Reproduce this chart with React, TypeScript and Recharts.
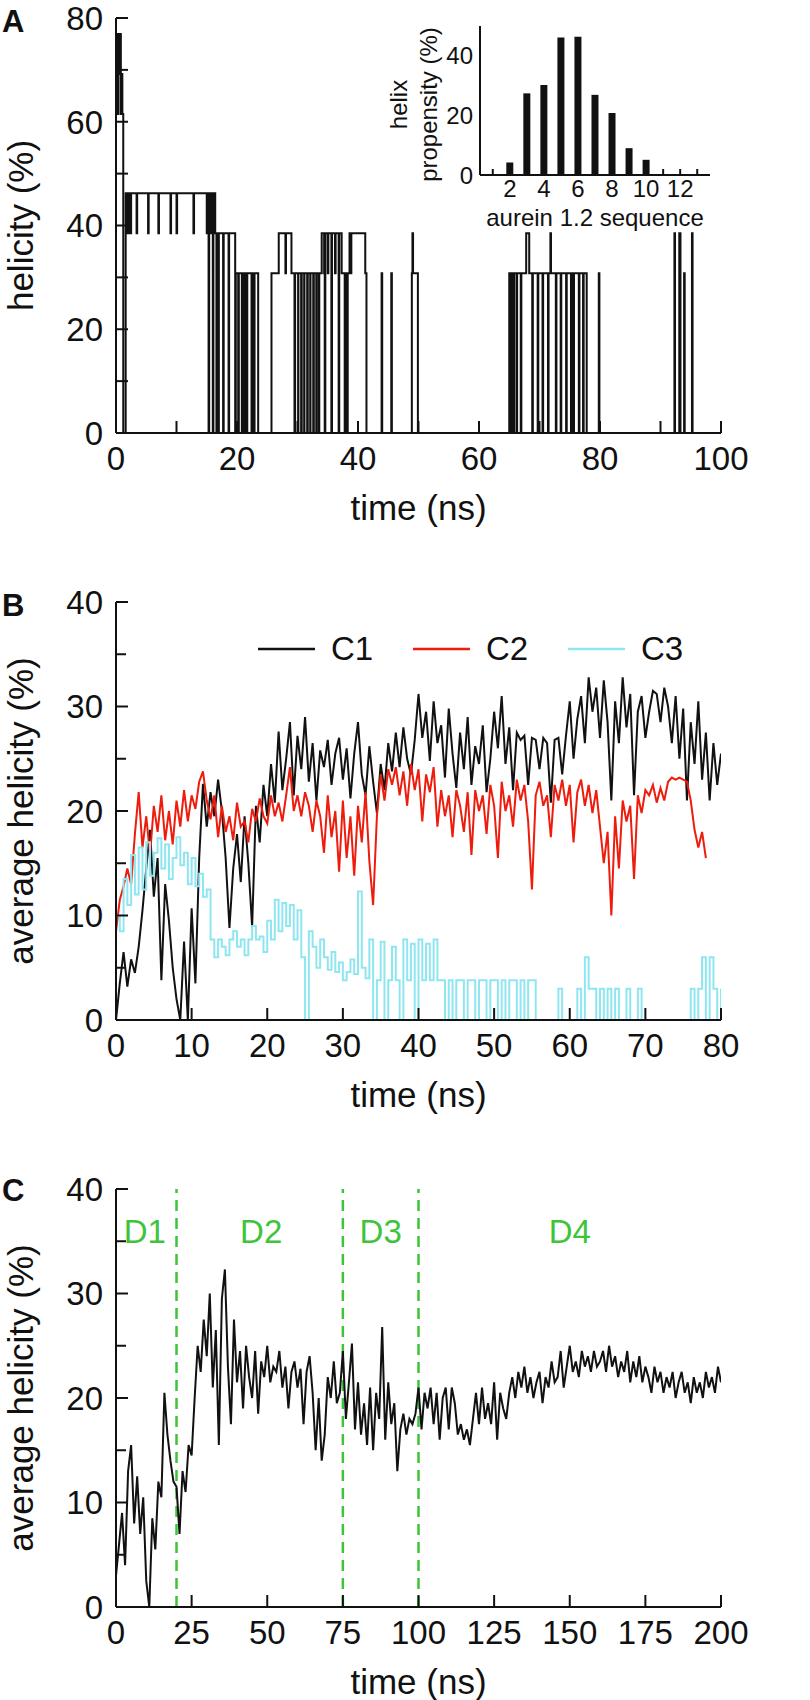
import React from 'react';
import { LineChart, Line, BarChart, Bar, XAxis, YAxis, ReferenceLine, ReferenceDot, Legend } from 'recharts';

const FONT = "'Liberation Sans', Arial, Helvetica, sans-serif";
const INK = '#111';
const RED = '#ee1c0c';
const CYAN = '#8ee6f0';
const GREEN = '#3ec43a';

// ---- panel A: one trajectory, [time (ns), helicity (%)] change points ----
const aSteps: [number, number][] = [
  [0, 69.2], [0.15, 76.9], [0.3, 61.5], [0.4, 76.9], [0.55, 69.2], [0.7, 76.9], [0.8, 61.5], [0.9, 69.2], [1.05, 61.5], [1.2, 0],
  [1.6, 46.2], [1.8, 38.5], [1.9, 46.2], [2.1, 38.5], [2.2, 46.2], [2.4, 38.5], [2.5, 46.2], [3.4, 38.5], [3.5, 46.2],
  [5.3, 38.5], [5.4, 46.2], [7.0, 38.5], [7.1, 46.2], [9.0, 38.5], [9.1, 46.2], [10.0, 38.5], [10.1, 46.2],
  [12.8, 38.5], [12.9, 46.2], [15.0, 38.5], [15.1, 46.2], [15.3, 0], [15.4, 46.2], [15.7, 38.5], [15.8, 46.2],
  [16.0, 0], [16.1, 46.2], [16.4, 38.5], [16.6, 0], [16.7, 38.5], [16.9, 0], [17.0, 38.5], [17.7, 0], [17.8, 38.5],
  [18.6, 0], [18.7, 38.5], [19.7, 0], [19.8, 30.8], [20.2, 0], [20.3, 30.8], [20.8, 0], [20.9, 30.8], [21.2, 0],
  [21.3, 30.8], [21.6, 0], [21.7, 30.8], [22.4, 0], [22.5, 30.8], [22.8, 0], [22.9, 30.8], [23.5, 0],
  [25.7, 30.8], [26.9, 38.5], [28.0, 30.8], [28.1, 38.5], [29.0, 30.8],
  [29.5, 0], [29.6, 30.8], [30.1, 0], [30.15, 30.8], [30.6, 0], [30.7, 30.8], [31.1, 0], [31.15, 30.8],
  [31.6, 0], [31.7, 30.8], [32.1, 0], [32.15, 30.8], [32.6, 0], [32.7, 30.8], [33.1, 0], [33.15, 30.8],
  [33.5, 0], [33.6, 30.8], [34.0, 38.5], [34.4, 30.8], [34.5, 0], [34.6, 38.5], [35.0, 30.8], [35.1, 38.5],
  [35.6, 0], [35.7, 38.5], [36.2, 30.8], [36.3, 38.5], [36.8, 0], [36.9, 38.5], [37.3, 30.8], [37.8, 0],
  [37.9, 30.8], [38.2, 0], [38.3, 30.8], [38.6, 38.5], [38.8, 30.8], [38.9, 38.5], [41.2, 30.8], [41.4, 0],
  [43.9, 30.8], [44.0, 0], [45.5, 30.8], [45.6, 0], [48.9, 30.8], [49.0, 38.5], [49.1, 30.8], [49.9, 0],
  [65.0, 30.8], [65.2, 0], [65.4, 30.8], [65.6, 0], [65.8, 30.8], [66.2, 0], [66.3, 30.8], [66.9, 0],
  [67.0, 30.8], [67.8, 38.5], [68.3, 30.8], [68.8, 0], [68.9, 30.8], [69.7, 0], [69.8, 30.8], [70.5, 0],
  [70.6, 30.8], [71.4, 0], [71.5, 30.8], [71.8, 38.5], [71.9, 30.8], [72.7, 0], [72.8, 30.8], [73.5, 0],
  [73.6, 30.8], [74.4, 0], [74.5, 30.8], [75.2, 0], [75.3, 30.8], [75.6, 0], [75.7, 30.8], [76.5, 0],
  [76.6, 30.8], [77.2, 0], [77.3, 30.8], [77.8, 0], [79.8, 30.8], [79.9, 0],
  [92.3, 38.5], [92.4, 0], [93.1, 38.5], [93.3, 0], [93.9, 30.8], [94.0, 0], [95.2, 38.5], [95.3, 0], [100, 0],
];
const aXTicks = [0, 10, 20, 30, 40, 50, 60, 70, 80, 90, 100];
const aXLabels = [0, 20, 40, 60, 80, 100];
const aYTicks = [0, 10, 20, 30, 40, 50, 60, 70, 80];
const aYLabels = [0, 20, 40, 60, 80];

// ---- inset: helix propensity per residue ----
const residues = [1, 2, 3, 4, 5, 6, 7, 8, 9, 10, 11, 12, 13];
const propensity = [0, 4.2, 27.4, 30.2, 46.1, 46.4, 26.9, 20.8, 9.0, 5.1, 0, 0, 0];
const insetXLabels = [2, 4, 6, 8, 10, 12];
const insetYLabels = [0, 20, 40];
const insetYTicks = [10, 20, 30, 40];

// ---- panel B: three runs, one value every 0.5 ns ----
const bStep = 0.5;
const c1Values = [
  0, 3.5, 6.5, 3.2, 5.8, 4.5, 7, 10.5, 14.5, 18.2,
  11.8, 15.5, 3.8, 13, 9.5, 5, 2, 0, 7.5, 0,
  10.7, 3.5, 15.5, 22.6, 18.5, 21.8, 19.5, 23, 20, 15.5,
  8.8, 14.5, 17.8, 13.2, 19.5, 15, 8.9, 20.5, 17, 22.5,
  19.5, 24.5, 20.8, 27.6, 22, 25, 28.5, 21.5, 27.2, 24,
  29, 22.8, 26.5, 21, 25.8, 24.2, 26.8, 22.5, 25.5, 27,
  23, 26, 21.2, 25.5, 28.5, 23.5, 21.5, 26.2, 22.8, 19.8,
  24.5, 22, 26.5, 23.8, 27.5, 24.2, 28, 25, 23.5, 26.8,
  31.2, 27, 29.5, 24.8, 30.5, 26.5, 28.2, 23.2, 29.8, 25.5,
  22.2, 27.5, 24, 29, 22.5, 26.2, 24.5, 28.2, 21.8, 25,
  29.5, 26, 31, 24.5, 28, 22, 27.5, 26.8, 27.2, 22.5,
  27, 26.8, 24, 27, 26.5, 20.8, 26.8, 27, 23.5, 27.2,
  30.5, 25, 28.8, 31, 26.5, 32.8, 29.5, 31.8, 27, 32.5,
  28.5, 21, 30.5, 26.5, 32.8, 28, 31.2, 21.5, 29.5, 31,
  27, 29.5, 31.5, 31.2, 28.5, 31.8, 30, 26.5, 31, 25,
  29.8, 21, 28.5, 24.5, 30.5, 23, 27.5, 21, 26.5, 22.5,
  25.5,
];
const c2Values = [
  8.5, 11.5, 12.8, 14.5, 13, 17.8, 21.8, 16.5, 19.5, 15.8,
  20.5, 18, 21.5, 17.2, 20, 16.8, 21, 18.5, 22, 19,
  21.5, 20.2, 22.8, 23.8, 21, 19.2, 21.5, 17.5, 20.5, 18,
  19.5, 17.2, 20.8, 18.5, 19, 17, 20.2, 19, 21.2, 19.5,
  18.8, 21.5, 19.5, 20.8, 19, 21.5, 24.2, 20, 21.5, 19.5,
  21.8, 20.5, 18, 21, 19.5, 16, 21.5, 17.5, 20, 14.2,
  21, 15.5, 19.5, 13.8, 20.5, 17, 21.8, 15.2, 11, 19.5,
  23.5, 21, 24, 22.5, 24.2, 21.5, 23.8, 20.5, 24.5, 22,
  24, 19, 23.5, 21.8, 24.2, 18.5, 22, 19.5, 21.5, 17.5,
  22, 20.5, 18, 21.8, 15.8, 22, 20, 21.5, 17.8, 22.5,
  20.5, 15.5, 22.8, 20, 21.5, 18.5, 23, 21, 22.5, 19,
  12.5, 21.5, 22.8, 20.5, 21.5, 17.5, 22.5, 21, 23, 20.5,
  22.5, 17, 21.8, 23, 20.5, 22.5, 19.8, 22, 18.5, 15,
  18, 10, 19.5, 14.5, 21, 19, 20.5, 13.5, 21.5, 19.8,
  22, 21.5, 22.5, 20.8, 22.2, 21, 22.8, 23.2, 23, 23.2,
  23, 22.8, 21, 18.2, 16.5, 18, 15.5,
];
const c3Values = [
  10, 8.5, 13.5, 11, 15.8, 12, 16.5, 12.5, 17, 13.8,
  16, 17.4, 14.5, 16.8, 13.5, 15.5, 17.5, 14.8, 16, 13,
  15.5, 12.8, 14, 11.8, 12.5, 7.7, 6, 7.7, 7, 6.2,
  7.7, 8.5, 7, 7.7, 6.2, 7.7, 9, 7.7, 8, 6.5,
  9.5, 7.7, 11.5, 8.5, 11.2, 9, 11, 7.7, 10.5, 6,
  0, 8.5, 7, 5, 7.7, 6, 4.8, 6.5, 4.6, 5.5,
  3.8, 4.6, 5.8, 4.4, 12.3, 5, 4, 7.7, 0, 3.8,
  7.5, 0, 3.8, 7, 3.8, 0, 7.7, 3.8, 7.3, 0,
  7.7, 3.8, 7.3, 3.8, 7.7, 3.8, 3.8, 0, 3.8, 0,
  3.8, 3.8, 0, 3.8, 3.8, 0, 3.8, 3.8, 0, 3.8,
  3.8, 0, 3.8, 0, 3.8, 3.8, 0, 3.8, 0, 3.8,
  3.8, 0, 0, 0, 0, 0, 0, 3, 0, 0,
  0, 0, 3, 0, 6, 3, 3, 0, 3, 0,
  3, 0, 3, 0, 0, 3, 0, 0, 3, 0,
  0, 0, 0, 0, 0, 0, 0, 0, 0, 0,
  0, 0, 3, 0, 3, 6, 0, 6, 3, 0,
  3,
];
const bXTicks = [0, 10, 20, 30, 40, 50, 60, 70, 80];
const bYTicks = [0, 5, 10, 15, 20, 25, 30, 35, 40];
const bYLabels = [0, 10, 20, 30, 40];

// ---- panel C: average over runs, one value per ns ----
const cStep = 1;
const avgValues = [
  3, 6, 9, 4, 13, 15.5, 8, 12.5, 7, 10.5,
  2.5, 0, 8.5, 5.5, 12, 10.5, 20.5, 16.5, 14, 12,
  11.5, 7, 13, 11, 15.5, 14.5, 20, 25, 22.5, 27.5,
  24, 30, 21, 26.5, 15.5, 29.5, 32.3, 23, 17.5, 27.5,
  21.5, 24.5, 19, 25, 22, 20, 24.5, 18.5, 23.5, 22,
  25, 21.5, 23, 22.5, 24.5, 21, 23, 19, 22.5, 23.5,
  21, 22.8, 17.5, 22.5, 24, 20.5, 15, 20, 14, 16.5,
  22, 20, 23.5, 19.5, 20.5, 24.5, 18, 21.5, 25.2, 17,
  21.5, 16.5, 19.5, 15.5, 21, 15, 20.5, 18, 26.8, 16,
  21.5, 17.5, 19.5, 13, 17, 18.5, 16.5, 18, 17.5, 18.5,
  21, 17, 20.5, 19, 21, 17.5, 20.5, 16, 20, 21,
  17, 21, 19.5, 16.5, 17.5, 16, 17, 15.5, 18, 20.5,
  17.5, 21, 18, 19.5, 17.5, 21.5, 16, 20.5, 19, 18,
  20.5, 22, 20, 22.5, 21, 23, 20.5, 22, 20, 21.5,
  22.5, 19.5, 22, 21, 23.5, 21.5, 22, 24.5, 21, 23,
  25, 22.5, 23.5, 22, 24.5, 23, 24, 22.5, 24.5, 23,
  23.5, 24.5, 22.5, 25, 23, 24, 22, 23.5, 22.5, 24.5,
  21.5, 23.5, 22, 24, 21.5, 23, 22, 20.5, 23, 21.5,
  22.5, 20.5, 22, 21, 22.5, 20, 21.5, 22.5, 20.5, 21.5,
  19.5, 22, 20.5, 21.5, 20, 22.5, 21, 22, 20.5, 23,
  21.5,
];
const cXTicks = [0, 25, 50, 75, 100, 125, 150, 175, 200];
const domainBounds = [20, 75, 100];
const domainNames = ['D1', 'D2', 'D3', 'D4'];
const domainCenters = [9.5, 48, 87.5, 150];

const aData = aSteps.map(([t, v]) => ({ t, v }));
const insetData = residues.map((r, i) => ({ r, p: propensity[i] }));
const c1Data = c1Values.map((v, i) => ({ t: i * bStep, v }));
const c2Data = c2Values.map((v, i) => ({ t: i * bStep, v }));
const c3Data = c3Values.map((v, i) => ({ t: i * bStep, v }));
const avgData = avgValues.map((v, i) => ({ t: i * cStep, v }));

type Side = 'bottom' | 'top' | 'left' | 'right';
type TickSpec = { side: Side; majors: number[]; labels: number[]; len: number; minorLen: number; fontSize?: number; gap?: number };

// inward tick marks, label drawn only for listed values
const makeTick = (s: TickSpec) => (props: any) => {
  const { x, y, payload } = props;
  const v = payload.value as number;
  const L = s.majors.includes(v) ? s.len : s.minorLen;
  const show = s.labels.includes(v);
  let line: any = null;
  let text: any = null;
  if (s.side === 'bottom') {
    if (L > 0) line = <line x1={x} y1={y} x2={x} y2={y - L} />;
    if (show) text = <text x={x} y={y + (s.gap || 0)} textAnchor="middle">{v}</text>;
  } else if (s.side === 'top') {
    if (L > 0) line = <line x1={x} y1={y} x2={x} y2={y + L} />;
  } else if (s.side === 'left') {
    if (L > 0) line = <line x1={x} y1={y} x2={x + L} y2={y} />;
    if (show) text = <text x={x - (s.gap || 0)} y={y} dy="0.36em" textAnchor="end">{v}</text>;
  } else {
    if (L > 0) line = <line x1={x} y1={y} x2={x - L} y2={y} />;
  }
  return (
    <g>
      {line && React.cloneElement(line, { stroke: INK, strokeWidth: 2 })}
      {text && React.cloneElement(text, { fill: INK, fontSize: s.fontSize, stroke: 'none' })}
    </g>
  );
};

const axisStyle = { stroke: INK, strokeWidth: 2 };
const xTitle = { value: 'time (ns)', position: 'insideTop', offset: 62, fontSize: 35, fill: INK };
const yTitle = (value: string) => ({
  value, angle: -90, position: 'insideLeft', offset: 21, fontSize: 35, fill: INK,
  style: { textAnchor: 'middle' },
});

function PanelA() {
  return (
    <div style={{ position: 'absolute', left: 0, top: 0 }}>
      <LineChart width={810} height={560} data={aData} margin={{ top: 18, right: 89, bottom: 0, left: 0 }}>
        <XAxis xAxisId="b" dataKey="t" type="number" domain={[0, 100]} allowDataOverflow ticks={aXTicks} interval={0}
          height={127} tickSize={0} tickMargin={0} tickLine={false} axisLine={axisStyle} label={xTitle}
          tick={makeTick({ side: 'bottom', majors: aXTicks, labels: aXLabels, len: 12, minorLen: 12, fontSize: 33, gap: 37 })} />
        <XAxis xAxisId="t" orientation="top" type="number" domain={[0, 100]} allowDataOverflow ticks={aXTicks} interval={0}
          height={0} tickSize={0} tickMargin={0} tickLine={false} axisLine={axisStyle}
          tick={makeTick({ side: 'top', majors: aXTicks, labels: [], len: 12, minorLen: 12 })} />
        <YAxis yAxisId="l" type="number" domain={[0, 80]} allowDataOverflow ticks={aYTicks} interval={0}
          width={116} tickSize={0} tickMargin={0} tickLine={false} axisLine={axisStyle} label={yTitle('helicity (%)')}
          tick={makeTick({ side: 'left', majors: aYTicks, labels: aYLabels, len: 12, minorLen: 12, fontSize: 33, gap: 13 })} />
        <YAxis yAxisId="r" orientation="right" type="number" domain={[0, 80]} allowDataOverflow ticks={aYTicks} interval={0}
          width={0} tickSize={0} tickMargin={0} tickLine={false} axisLine={axisStyle}
          tick={makeTick({ side: 'right', majors: aYTicks, labels: [], len: 12, minorLen: 12 })} />
        <Line xAxisId="b" yAxisId="l" type="stepAfter" dataKey="v" stroke={INK} strokeWidth={2}
          dot={false} activeDot={false} isAnimationActive={false} />
      </LineChart>
    </div>
  );
}

const insetYLabel = (props: any) => {
  const vb = props.viewBox || { x: 0, y: 26, width: 100, height: 149 };
  const cy = vb.y + vb.height / 2 + 4;
  const x1 = vb.x + 27;
  const x2 = vb.x + 57;
  return (
    <g fill={INK} fontSize={24}>
      <text x={x1} y={cy} textAnchor="middle" transform={`rotate(-90, ${x1}, ${cy})`}>helix</text>
      <text x={x2} y={cy} textAnchor="middle" transform={`rotate(-90, ${x2}, ${cy})`}>propensity (%)</text>
    </g>
  );
};

function Inset() {
  return (
    <div style={{ position: 'absolute', left: 380, top: 0 }}>
      <BarChart width={340} height={240} data={insetData} margin={{ top: 26, right: 10, bottom: 0, left: 0 }}>
        <XAxis xAxisId="b" dataKey="r" type="number" domain={[0.25, 13.75]} allowDataOverflow ticks={residues} interval={0}
          height={65} tickSize={0} tickMargin={0} tickLine={false} axisLine={axisStyle}
          label={{ value: 'aurein 1.2 sequence', position: 'insideTop', offset: 34, fontSize: 24, fill: INK }}
          tick={makeTick({ side: 'bottom', majors: residues, labels: insetXLabels, len: 6, minorLen: 6, fontSize: 24, gap: 22 })} />
        <XAxis xAxisId="t" orientation="top" type="number" domain={[0.25, 13.75]} allowDataOverflow ticks={residues} interval={0}
          height={0} tickSize={0} tickMargin={0} tickLine={false} axisLine={axisStyle}
          tick={makeTick({ side: 'top', majors: residues, labels: [], len: 6, minorLen: 6 })} />
        <YAxis yAxisId="l" type="number" domain={[0, 50]} allowDataOverflow ticks={insetYLabels} interval={0}
          width={100} tickSize={0} tickMargin={0} tickLine={false} axisLine={axisStyle} label={insetYLabel}
          tick={makeTick({ side: 'left', majors: [], labels: insetYLabels, len: 0, minorLen: 0, fontSize: 24, gap: 7 })} />
        <YAxis yAxisId="r" orientation="right" type="number" domain={[0, 50]} allowDataOverflow ticks={insetYTicks} interval={0}
          width={0} tickSize={0} tickMargin={0} tickLine={false} axisLine={axisStyle}
          tick={makeTick({ side: 'right', majors: insetYTicks, labels: [], len: 9, minorLen: 9 })} />
        <Bar xAxisId="b" yAxisId="l" dataKey="p" fill={INK} barSize={7} isAnimationActive={false} />
      </BarChart>
    </div>
  );
}

const renderLegend = (props: any) => (
  <div style={{ display: 'flex', alignItems: 'center', height: 30 }}>
    {(props.payload || []).map((p: any) => (
      <div key={p.value} style={{ display: 'flex', alignItems: 'center', width: 155 }}>
        <svg width={57} height={4} style={{ display: 'block' }}>
          <line x1={0} y1={2} x2={57} y2={2} stroke={p.color} strokeWidth={2.5} />
        </svg>
        <span style={{ marginLeft: 16, fontSize: 33, lineHeight: '30px', color: INK }}>{p.value}</span>
      </div>
    ))}
  </div>
);

function PanelB() {
  return (
    <div style={{ position: 'absolute', left: 0, top: 560 }}>
      <LineChart width={810} height={587} margin={{ top: 42, right: 89, bottom: 0, left: 0 }}>
        <XAxis xAxisId="b" dataKey="t" type="number" domain={[0, 80]} allowDataOverflow ticks={bXTicks} interval={0}
          height={127} tickSize={0} tickMargin={0} tickLine={false} axisLine={axisStyle} label={xTitle}
          tick={makeTick({ side: 'bottom', majors: bXTicks, labels: bXTicks, len: 12, minorLen: 12, fontSize: 33, gap: 37 })} />
        <XAxis xAxisId="t" orientation="top" type="number" domain={[0, 80]} allowDataOverflow ticks={bXTicks} interval={0}
          height={0} tickSize={0} tickMargin={0} tickLine={false} axisLine={axisStyle}
          tick={makeTick({ side: 'top', majors: bXTicks, labels: [], len: 12, minorLen: 12 })} />
        <YAxis yAxisId="l" type="number" domain={[0, 40]} allowDataOverflow ticks={bYTicks} interval={0}
          width={116} tickSize={0} tickMargin={0} tickLine={false} axisLine={axisStyle} label={yTitle('average helicity (%)')}
          tick={makeTick({ side: 'left', majors: bYLabels, labels: bYLabels, len: 12, minorLen: 10, fontSize: 33, gap: 13 })} />
        <YAxis yAxisId="r" orientation="right" type="number" domain={[0, 40]} allowDataOverflow ticks={bYTicks} interval={0}
          width={0} tickSize={0} tickMargin={0} tickLine={false} axisLine={axisStyle}
          tick={makeTick({ side: 'right', majors: bYLabels, labels: [], len: 12, minorLen: 10 })} />
        <Legend verticalAlign="middle" align="center" layout="horizontal" content={renderLegend}
          wrapperStyle={{ left: 258, top: 74, width: 480, height: 30 }} />
        <Line xAxisId="b" yAxisId="l" data={c1Data} name="C1" type="linear" dataKey="v" stroke={INK} strokeWidth={2}
          dot={false} activeDot={false} isAnimationActive={false} />
        <Line xAxisId="b" yAxisId="l" data={c2Data} name="C2" type="linear" dataKey="v" stroke={RED} strokeWidth={2}
          dot={false} activeDot={false} isAnimationActive={false} />
        <Line xAxisId="b" yAxisId="l" data={c3Data} name="C3" type="stepAfter" dataKey="v" stroke={CYAN} strokeWidth={2}
          dot={false} activeDot={false} isAnimationActive={false} />
      </LineChart>
    </div>
  );
}

function PanelC() {
  return (
    <div style={{ position: 'absolute', left: 0, top: 1147 }}>
      <LineChart width={810} height={553} data={avgData} margin={{ top: 42, right: 89, bottom: 0, left: 0 }}>
        <XAxis xAxisId="b" dataKey="t" type="number" domain={[0, 200]} allowDataOverflow ticks={cXTicks} interval={0}
          height={93} tickSize={0} tickMargin={0} tickLine={false} axisLine={axisStyle} label={xTitle}
          tick={makeTick({ side: 'bottom', majors: cXTicks, labels: cXTicks, len: 12, minorLen: 12, fontSize: 33, gap: 37 })} />
        <XAxis xAxisId="t" orientation="top" type="number" domain={[0, 200]} allowDataOverflow ticks={cXTicks} interval={0}
          height={0} tickSize={0} tickMargin={0} tickLine={false} axisLine={axisStyle}
          tick={makeTick({ side: 'top', majors: cXTicks, labels: [], len: 12, minorLen: 12 })} />
        <YAxis yAxisId="l" type="number" domain={[0, 40]} allowDataOverflow ticks={bYTicks} interval={0}
          width={116} tickSize={0} tickMargin={0} tickLine={false} axisLine={axisStyle} label={yTitle('average helicity (%)')}
          tick={makeTick({ side: 'left', majors: bYLabels, labels: bYLabels, len: 12, minorLen: 10, fontSize: 33, gap: 13 })} />
        <YAxis yAxisId="r" orientation="right" type="number" domain={[0, 40]} allowDataOverflow ticks={bYTicks} interval={0}
          width={0} tickSize={0} tickMargin={0} tickLine={false} axisLine={axisStyle}
          tick={makeTick({ side: 'right', majors: bYLabels, labels: [], len: 12, minorLen: 10 })} />
        {domainBounds.map((b) => (
          <ReferenceLine key={b} xAxisId="b" yAxisId="l" x={b} stroke={GREEN} strokeWidth={2.5} strokeDasharray="11 7" />
        ))}
        {domainNames.map((n, i) => (
          <ReferenceDot key={n} xAxisId="b" yAxisId="l" x={domainCenters[i]} y={36} r={0} fill="none" stroke="none"
            label={{ value: n, position: 'center', fill: GREEN, fontSize: 33 }} />
        ))}
        <Line xAxisId="b" yAxisId="l" type="linear" dataKey="v" stroke={INK} strokeWidth={2}
          dot={false} activeDot={false} isAnimationActive={false} />
      </LineChart>
    </div>
  );
}

const letter = (top: number): React.CSSProperties => ({
  position: 'absolute', left: 2, top, fontSize: 31, fontWeight: 700, lineHeight: '31px', color: INK,
});

export default function App() {
  return (
    <div style={{ position: 'absolute', left: 0, top: 0, width: 810, height: 1700, background: '#fff', fontFamily: FONT, color: INK }}>
      <PanelA />
      <Inset />
      <PanelB />
      <PanelC />
      <div style={letter(6)}>A</div>
      <div style={letter(590)}>B</div>
      <div style={letter(1175)}>C</div>
    </div>
  );
}
